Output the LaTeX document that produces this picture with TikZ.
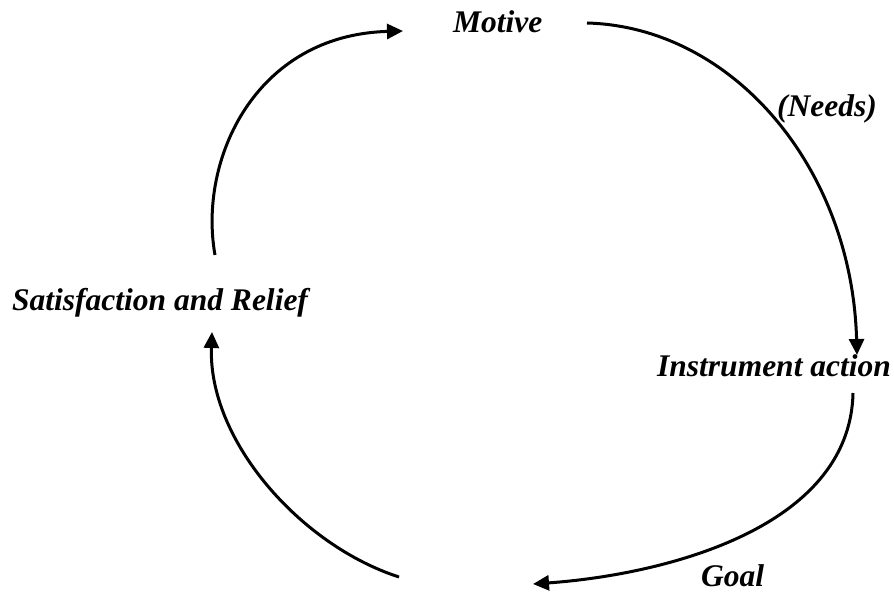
\documentclass[tikz,border=0pt]{standalone}
\usepackage{fontspec}
\setmainfont{Liberation Serif}
\usetikzlibrary{arrows.meta}
\begin{document}
\begin{tikzpicture}[x=1pt,y=-1pt,
  lbl/.style={anchor=base west,inner sep=0pt,font=\fontsize{31.5}{36}\selectfont\bfseries\itshape},
  cyc/.style={line width=3pt,-{Triangle[length=16pt,width=15pt]}}]
\useasboundingbox[fill=white] (0,0) rectangle (894,593);
\node[lbl] (motive) at (453,33) {Motive};
\node[lbl] (needs) at (777,117) {(Needs)};
\node[lbl] (instr) at (657,377) {Instrument action};
\node[lbl] (satis) at (12,311) {Satisfaction and Relief};
\node[lbl] (goal) at (701,586) {Goal};
\coordinate (a1s) at (215,255);
\coordinate (a1e) at (403,31);
\coordinate (a2s) at (587,23);
\coordinate (a2e) at (857,355);
\coordinate (a3s) at (853,393);
\coordinate (a3e) at (533,584);
\coordinate (a4s) at (399,577);
\coordinate (a4e) at (212,332);
\draw[cyc] (a1s) .. controls (198,160) and (255,35) .. (a1e);
\draw[cyc] (a2s) .. controls (733,27) and (852,168) .. (a2e);
\draw[cyc] (a3s) .. controls (850,530) and (660,575) .. (a3e);
\draw[cyc] (a4s) .. controls (300,545) and (208,440) .. (a4e);
\end{tikzpicture}
\end{document}
